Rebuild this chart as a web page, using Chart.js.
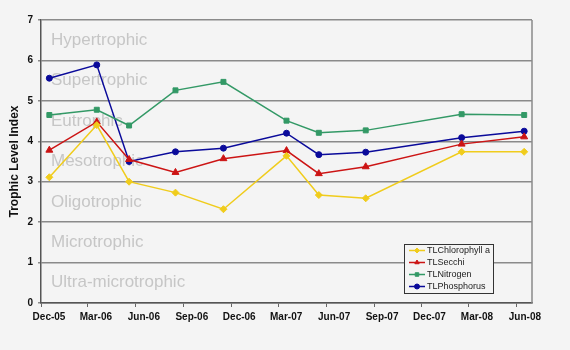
<!DOCTYPE html>
<html>
<head>
<meta charset="utf-8">
<script src="https://cdn.jsdelivr.net/npm/chart.js@4/dist/chart.umd.min.js"></script>
<style>
  html, body { margin: 0; padding: 0; background: #f4f4f4; }
  #wrap { width: 570px; height: 350px; }
</style>
</head>
<body>
<div id="wrap"><canvas id="c" width="570" height="350"></canvas></div>
<script>
// Sampling dates and Trophic Level Index values
const sampleDates = ['2005-12-17', '2006-03-18', '2006-05-19', '2006-08-16', '2006-11-16',
                     '2007-03-17', '2007-05-18', '2007-08-16', '2008-02-16', '2008-06-15'];
const tlChlorophyll = [3.11, 4.40, 3.00, 2.73, 2.32, 3.64, 2.67, 2.59, 3.74, 3.74];
const tlSecchi      = [3.78, 4.48, 3.55, 3.23, 3.57, 3.77, 3.20, 3.37, 3.93, 4.11];
const tlNitrogen    = [4.65, 4.78, 4.39, 5.26, 5.47, 4.51, 4.21, 4.27, 4.67, 4.65];
const tlPhosphorus  = [5.56, 5.89, 3.50, 3.74, 3.83, 4.20, 3.67, 3.73, 4.09, 4.25];

// Axis tick dates (quarterly) and their labels
const tickDates = ['2005-12-01', '2006-03-01', '2006-06-01', '2006-09-01', '2006-12-01', '2007-03-01',
                   '2007-06-01', '2007-09-01', '2007-12-01', '2008-03-01', '2008-06-01'];
const tickLabels = ['Dec-05', 'Mar-06', 'Jun-06', 'Sep-06', 'Dec-06', 'Mar-07',
                    'Jun-07', 'Sep-07', 'Dec-07', 'Mar-08', 'Jun-08'];
const axisEndDate = '2008-06-30';

// Trophic state bands, bottom to top (one per index unit)
const bandNames = ['Ultra-microtrophic', 'Microtrophic', 'Oligotrophic', 'Mesotrophic',
                   'Eutrophic', 'Supertrophic', 'Hypertrophic'];

const DAY = 86400000;
const dayNum = s => Date.UTC(+s.slice(0, 4), +s.slice(5, 7) - 1, +s.slice(8, 10)) / DAY;
const xs = sampleDates.map(dayNum);
const tickX = tickDates.map(dayNum);
const pts = vals => vals.map((v, i) => ({ x: xs[i], y: v }));

const series = [
  { label: 'TLChlorophyll a', data: tlChlorophyll, color: '#f0cc1c', style: 'rectRot', r: 3.5 },
  { label: 'TLSecchi',        data: tlSecchi,      color: '#cc1414', style: 'triangle', r: 4 },
  { label: 'TLNitrogen',      data: tlNitrogen,    color: '#339966', style: 'rect', r: 3.5 },
  { label: 'TLPhosphorus',    data: tlPhosphorus,  color: '#0a0a9a', style: 'circle', r: 3 }
];

// Band names written behind the lines
const bandPlugin = {
  id: 'bands',
  beforeDatasetsDraw(chart) {
    const { ctx, scales: { y }, chartArea } = chart;
    ctx.save();
    ctx.font = '17px "Liberation Sans", Arial, sans-serif';
    ctx.fillStyle = '#c6c6c6';
    ctx.textBaseline = 'middle';
    bandNames.forEach((name, i) => {
      ctx.fillText(name, chartArea.left + 10, y.getPixelForValue(i + 0.5));
    });
    ctx.restore();
  }
};

// Boxed legend inside the lower right of the plot
const boxLegend = {
  id: 'boxLegend',
  afterDraw(chart) {
    const { ctx } = chart;
    const x0 = 404, y0 = 244, w = 89, h = 49, row = 12;
    ctx.save();
    ctx.fillStyle = '#f4f4f4';
    ctx.fillRect(x0, y0, w, h);
    ctx.strokeStyle = '#333';
    ctx.lineWidth = 1;
    ctx.strokeRect(x0 + 0.5, y0 + 0.5, w, h);
    ctx.font = '9px "Liberation Sans", Arial, sans-serif';
    ctx.textBaseline = 'middle';
    chart.data.datasets.forEach((ds, i) => {
      const cy = y0 + 6.5 + i * row;
      ctx.strokeStyle = ds.borderColor;
      ctx.lineWidth = 1.5;
      ctx.beginPath();
      ctx.moveTo(x0 + 5, cy);
      ctx.lineTo(x0 + 21, cy);
      ctx.stroke();
      ctx.fillStyle = ds.pointBackgroundColor;
      ctx.strokeStyle = ds.pointBorderColor;
      ctx.lineWidth = 1;
      Chart.helpers.drawPoint(ctx, {
        pointStyle: ds.pointStyle, radius: 2.5, rotation: 0, borderWidth: 1
      }, x0 + 13, cy);
      ctx.fillStyle = '#222';
      ctx.fillText(ds.label, x0 + 23, cy + 0.5);
    });
    ctx.restore();
  }
};

new Chart(document.getElementById('c'), {
  type: 'line',
  data: {
    datasets: series.map(s => ({
      label: s.label,
      data: pts(s.data),
      borderColor: s.color,
      backgroundColor: s.color,
      pointBackgroundColor: s.color,
      pointBorderColor: s.color,
      pointStyle: s.style,
      pointRadius: s.r,
      pointBorderWidth: 1,
      borderWidth: 1.5,
      tension: 0,
      fill: false
    }))
  },
  options: {
    responsive: false,
    animation: false,
    layout: { padding: { top: 20, right: 38, left: 0, bottom: 0 } },
    plugins: { legend: { display: false }, tooltip: { enabled: false } },
    scales: {
      x: {
        type: 'linear',
        min: tickX[0],
        max: dayNum(axisEndDate),
        afterBuildTicks(scale) { scale.ticks = tickX.map(v => ({ value: v })); },
        afterFit(scale) { scale.height = 47; },
        ticks: {
          autoSkip: false,
          maxRotation: 0,
          labelOffset: 8,
          padding: 4,
          color: '#111',
          font: { family: '"Liberation Sans", Arial, sans-serif', size: 10, weight: 'bold' },
          callback: (v) => tickLabels[tickX.indexOf(v)]
        },
        grid: { display: true, drawOnChartArea: false, drawTicks: true, tickLength: 4, color: '#666', lineWidth: 1 },
        border: { display: true, color: '#555', width: 1.5 }
      },
      y: {
        min: 0, max: 7,
        afterFit(scale) { scale.width = 41; },
        ticks: {
          stepSize: 1,
          padding: 5,
          color: '#111',
          font: { family: '"Liberation Sans", Arial, sans-serif', size: 10, weight: 'bold' }
        },
        grid: { color: '#8a8a8a', lineWidth: 1.5, tickLength: 3 },
        border: { display: true, color: '#555', width: 1.5 },
        title: {
          display: true,
          text: 'Trophic Level Index',
          color: '#111',
          padding: { top: 7, bottom: 0 },
          font: { family: '"Liberation Sans", Arial, sans-serif', size: 12, weight: 'bold' }
        }
      }
    }
  },
  plugins: [bandPlugin, boxLegend, {
    id: 'frame',
    afterDraw(chart) {
      const { ctx, chartArea: a } = chart;
      ctx.save();
      ctx.strokeStyle = '#8a8a8a';
      ctx.lineWidth = 1.5;
      ctx.beginPath();
      ctx.moveTo(a.right, a.top);
      ctx.lineTo(a.right, a.bottom);
      ctx.stroke();
      ctx.restore();
    }
  }]
});
</script>
</body>
</html>
